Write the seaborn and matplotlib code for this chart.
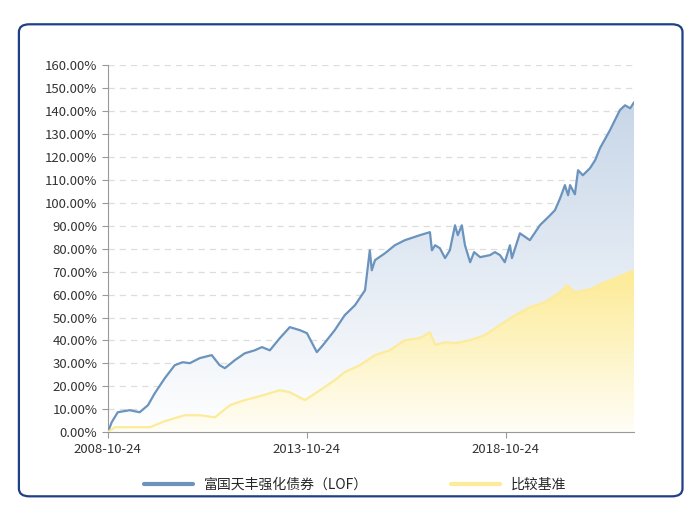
import numpy as np
import pandas as pd
import seaborn as sns
import matplotlib.pyplot as plt
import matplotlib.dates as mdates
from matplotlib.patches import FancyBboxPatch, Polygon

# datos (anio decimal, rendimiento %)
fund_years = [2008.81, 2008.91, 2009.06, 2009.36, 2009.61, 2009.82, 2009.99, 2010.24, 2010.49, 2010.69,
              2010.87, 2011.12, 2011.42, 2011.62, 2011.75, 2012.00, 2012.25, 2012.50, 2012.68, 2012.88,
              2013.13, 2013.38, 2013.63, 2013.81, 2014.06, 2014.21, 2014.51, 2014.76, 2015.02, 2015.27,
              2015.39, 2015.44, 2015.52, 2015.77, 2016.02, 2016.27, 2016.65, 2016.90, 2016.95, 2017.03,
              2017.15, 2017.28, 2017.40, 2017.53, 2017.60, 2017.70, 2017.78, 2017.91, 2018.01, 2018.16,
              2018.41, 2018.53, 2018.66, 2018.78, 2018.91, 2018.96, 2019.16, 2019.41, 2019.66, 2019.92,
              2020.04, 2020.17, 2020.29, 2020.37, 2020.42, 2020.54, 2020.62, 2020.74, 2020.92, 2021.05,
              2021.17, 2021.42, 2021.67, 2021.80, 2021.93, 2022.03]
fund_vals = [0, 4.4, 8.7, 9.6, 8.7, 11.8, 17.0, 23.5, 29.2, 30.5,
             30.1, 32.3, 33.6, 29.2, 27.9, 31.4, 34.4, 35.7, 37.1, 35.7,
             41.0, 45.8, 44.5, 43.2, 34.9, 37.9, 44.5, 51.0, 55.4, 61.9,
             79.3, 70.6, 75.0, 78.0, 81.5, 83.7, 85.9, 87.2, 79.3, 81.5,
             80.2, 75.9, 79.3, 90.2, 85.9, 90.2, 81.5, 74.1, 78.5, 76.3,
             77.2, 78.5, 77.2, 74.1, 81.5, 75.9, 86.7, 83.7, 90.2, 94.6,
             96.8, 102.0, 107.7, 103.3, 107.7, 103.7, 114.2, 112.0, 115.1, 118.6,
             123.8, 131.6, 140.4, 142.5, 141.2, 143.9]

bench_years = [2008.81, 2008.99, 2009.36, 2009.87, 2010.24, 2010.74, 2011.12, 2011.50, 2011.88, 2012.25,
               2012.63, 2013.13, 2013.38, 2013.76, 2014.14, 2014.51, 2014.76, 2015.14, 2015.52, 2015.89,
               2016.27, 2016.65, 2016.90, 2017.03, 2017.28, 2017.53, 2017.91, 2018.28, 2018.66, 2019.04,
               2019.41, 2019.79, 2020.17, 2020.34, 2020.54, 2020.92, 2021.30, 2021.67, 2022.03]
bench_vals = [0, 2.2, 2.2, 2.2, 4.8, 7.4, 7.4, 6.5, 11.8, 14.0,
              15.7, 18.3, 17.4, 14.0, 18.3, 22.7, 26.2, 29.2, 33.6, 35.7,
              40.1, 41.0, 43.6, 38.1, 39.2, 38.8, 40.1, 42.3, 46.7, 51.0,
              54.5, 56.7, 61.0, 64.1, 61.0, 62.3, 65.4, 68.0, 70.6]

fund_name = "富国天丰强化债券（LOF）"
bench_name = "比较基准"
tick_dates = ["2008-10-24", "2013-10-24", "2018-10-24"]


def to_date(years):
    base = pd.Timestamp("2008-10-24")
    return [base + pd.Timedelta(days=(y - 2008.81) * 365.25) for y in years]


df_f = pd.DataFrame({"date": to_date(fund_years), "val": fund_vals})
df_b = pd.DataFrame({"date": to_date(bench_years), "val": bench_vals})

sns.set_style("white")
plt.rcParams['font.family'] = ['Noto Sans CJK SC', 'DejaVu Sans']

fig = plt.figure(figsize=(7, 5.17), dpi=100)
ax = fig.add_axes([0.154, 0.164, 0.752, 0.71])

# marco redondeado
fig.patches.append(FancyBboxPatch((0.027, 0.04), 0.948, 0.913, boxstyle="round,pad=0,rounding_size=0.015",
                                  transform=fig.transFigure, fill=False, ec="#1f3f86", lw=1.6))

x0 = mdates.date2num(pd.Timestamp("2008-10-24"))
x1 = mdates.date2num(df_f["date"].iloc[-1])


def grad_fill(df, c_top, c_bot, ymax):
    xs = mdates.date2num(df["date"])
    verts = np.column_stack([np.r_[xs, xs[-1], xs[0]], np.r_[df["val"], 0, 0]])
    poly = Polygon(verts, closed=True, fc="none", ec="none")
    ax.add_patch(poly)
    g = np.linspace(1, 0, 256)[:, None]
    cols = np.array(c_top)[None, None, :] * g[..., None] + np.array(c_bot)[None, None, :] * (1 - g[..., None])
    cols = np.repeat(cols, 2, axis=1)
    im = ax.imshow(cols, extent=[x0, x1, 0, ymax], aspect="auto", origin="upper", zorder=1)
    im.set_clip_path(poly)


grad_fill(df_f, (0.78, 0.84, 0.91), (1, 1, 1), 145)
grad_fill(df_b, (0.99, 0.92, 0.58), (1.0, 0.995, 0.97), 71)

sns.lineplot(data=df_f, x="date", y="val", ax=ax, color="#6a93bd", lw=1.6, label=fund_name, zorder=3)
sns.lineplot(data=df_b, x="date", y="val", ax=ax, color="#fdeb9a", lw=1.6, label=bench_name, zorder=3)

ax.set_xlim(x0, x1)
ax.set_ylim(0, 160)
ax.set_yticks(range(0, 161, 10))
ax.set_yticklabels([f"{v:.2f}%" for v in range(0, 161, 10)], fontsize=9.5, color="#333333")
ax.set_xticks([mdates.date2num(pd.Timestamp(d)) for d in tick_dates])
ax.set_xticklabels(tick_dates, fontsize=9.5, color="#333333")
ax.tick_params(axis="both", length=4, color="#999999", left=True, bottom=True)
ax.yaxis.grid(True, ls=(0, (5, 4)), color="#dddddd", lw=0.9)
ax.set_axisbelow(True)
ax.set_xlabel("")
ax.set_ylabel("")
for s in ["top", "right"]:
    ax.spines[s].set_visible(False)
for s in ["left", "bottom"]:
    ax.spines[s].set_color("#999999")

leg = ax.legend(loc="upper center", bbox_to_anchor=(0.47, -0.09), ncol=2, frameon=False,
                fontsize=10, handlelength=3.5, columnspacing=6)
for h in leg.get_lines():
    h.set_linewidth(3)

fig.savefig("out.png", dpi=100)
